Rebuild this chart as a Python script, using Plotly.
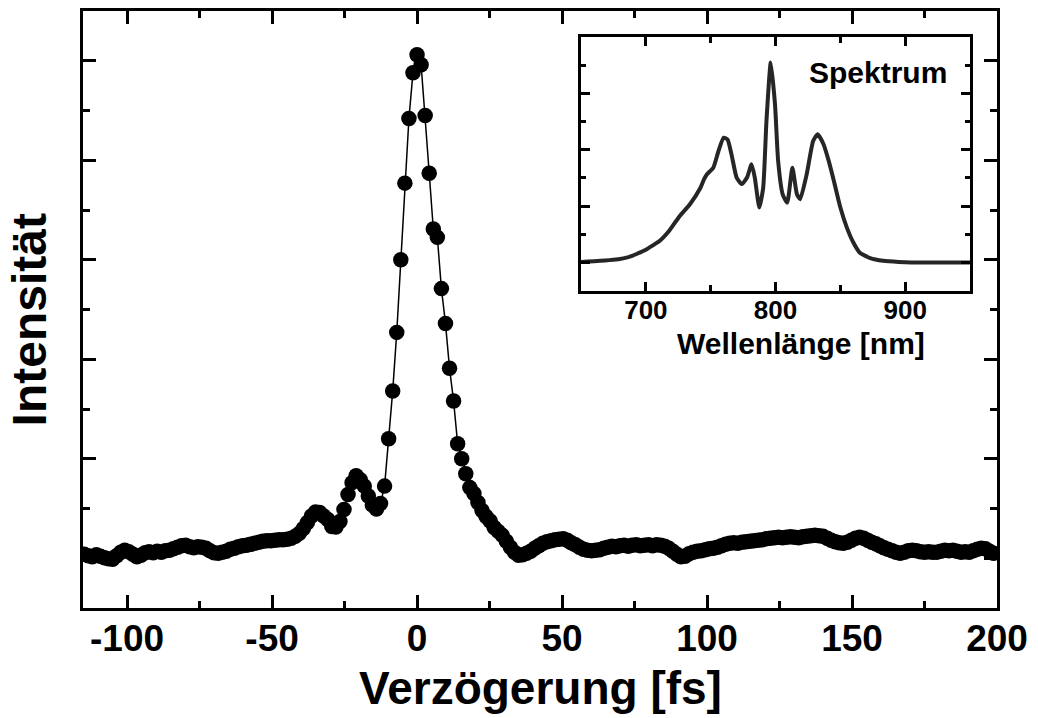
import plotly.graph_objects as go

# Autocorrelation trace: delay (fs) and normalised intensity
delay_fs = [
    -114.8, -113.4, -112.0, -110.6, -109.2, -107.8, -106.4, -105.0, -103.6, -102.2,
    -100.8, -99.4, -98.0, -96.6, -95.2, -93.8, -92.4, -91.0, -89.6, -88.2,
    -86.8, -85.4, -84.0, -82.6, -81.2, -79.8, -78.4, -77.0, -75.6, -74.2,
    -72.8, -71.4, -70.0, -68.6, -67.2, -65.8, -64.4, -63.0, -61.6, -60.2,
    -58.8, -57.4, -56.0, -54.6, -53.2, -51.8, -50.4, -49.0, -47.6, -46.2,
    -44.8, -43.4, -42.0, -40.6, -39.2, -37.8, -36.4, -35.0, -33.6, -32.2,
    -30.8, -29.4, -28.0, -26.6, -25.2, -23.8, -22.4, -21.0, -19.6, -18.2,
    -16.8, -15.4, -14.0, -12.6, -11.2, -9.8, -8.4, -7.0, -5.6, -4.2,
    -2.8, -1.4, 0.0, 1.4, 2.8, 4.2, 5.6, 7.0, 8.4, 9.8,
    11.2, 12.6, 14.0, 15.4, 16.8, 18.2, 19.6, 21.0, 22.4, 23.8,
    25.2, 26.6, 28.0, 29.4, 30.8, 32.2, 33.6, 35.0, 36.4, 37.8,
    39.2, 40.6, 42.0, 43.4, 44.8, 46.2, 47.6, 49.0, 50.4, 51.8,
    53.2, 54.6, 56.0, 57.4, 58.8, 60.2, 61.6, 63.0, 64.4, 65.8,
    67.2, 68.6, 70.0, 71.4, 72.8, 74.2, 75.6, 77.0, 78.4, 79.8,
    81.2, 82.6, 84.0, 85.4, 86.8, 88.2, 89.6, 91.0, 92.4, 93.8,
    95.2, 96.6, 98.0, 99.4, 100.8, 102.2, 103.6, 105.0, 106.4, 107.8,
    109.2, 110.6, 112.0, 113.4, 114.8, 116.2, 117.6, 119.0, 120.4, 121.8,
    123.2, 124.6, 126.0, 127.4, 128.8, 130.2, 131.6, 133.0, 134.4, 135.8,
    137.2, 138.6, 140.0, 141.4, 142.8, 144.2, 145.6, 147.0, 148.4, 149.8,
    151.2, 152.6, 154.0, 155.4, 156.8, 158.2, 159.6, 161.0, 162.4, 163.8,
    165.2, 166.6, 168.0, 169.4, 170.8, 172.2, 173.6, 175.0, 176.4, 177.8,
    179.2, 180.6, 182.0, 183.4, 184.8, 186.2, 187.6, 189.0, 190.4, 191.8,
    193.2, 194.6, 196.0, 197.4, 198.8,
]

intensity = [
    0.008, 0.005, 0.003, 0.007, 0.004, 0.001, -0.001, -0.002, 0.005, 0.012,
    0.016, 0.013, 0.008, 0.003, 0.006, 0.011, 0.013, 0.011, 0.014, 0.012,
    0.015, 0.016, 0.019, 0.022, 0.025, 0.026, 0.023, 0.021, 0.023, 0.022,
    0.020, 0.015, 0.011, 0.010, 0.012, 0.014, 0.018, 0.020, 0.023, 0.025,
    0.026, 0.028, 0.030, 0.032, 0.034, 0.035, 0.035, 0.036, 0.037, 0.037,
    0.038, 0.040, 0.044, 0.050, 0.060, 0.072, 0.085, 0.093, 0.092, 0.085,
    0.078, 0.064, 0.063, 0.074, 0.098, 0.128, 0.152, 0.166, 0.158, 0.145,
    0.125, 0.107, 0.099, 0.110, 0.145, 0.240, 0.336, 0.454, 0.600, 0.754,
    0.884, 0.976, 1.012, 0.992, 0.890, 0.774, 0.662, 0.645, 0.542, 0.472,
    0.382, 0.316, 0.230, 0.200, 0.170, 0.142, 0.130, 0.112, 0.096, 0.084,
    0.075, 0.062, 0.054, 0.046, 0.034, 0.022, 0.012, 0.006, 0.007, 0.010,
    0.014, 0.020, 0.025, 0.030, 0.033, 0.035, 0.037, 0.038, 0.039, 0.036,
    0.031, 0.027, 0.022, 0.018, 0.016, 0.015, 0.016, 0.017, 0.020, 0.022,
    0.024, 0.023, 0.025, 0.026, 0.024, 0.026, 0.027, 0.025, 0.026, 0.027,
    0.025, 0.027, 0.026, 0.024, 0.020, 0.014, 0.008, 0.003, 0.004, 0.009,
    0.012, 0.014, 0.015, 0.017, 0.019, 0.020, 0.022, 0.025, 0.028, 0.030,
    0.031, 0.030, 0.032, 0.033, 0.034, 0.035, 0.036, 0.037, 0.039, 0.040,
    0.041, 0.042, 0.041, 0.042, 0.043, 0.042, 0.041, 0.043, 0.044, 0.045,
    0.046, 0.045, 0.044, 0.040, 0.036, 0.033, 0.031, 0.030, 0.032, 0.036,
    0.040, 0.042, 0.040, 0.036, 0.032, 0.029, 0.025, 0.021, 0.018, 0.015,
    0.012, 0.010, 0.012, 0.015, 0.016, 0.015, 0.013, 0.012, 0.013, 0.012,
    0.012, 0.014, 0.016, 0.015, 0.016, 0.014, 0.012, 0.013, 0.012, 0.015,
    0.018, 0.020, 0.019, 0.014, 0.010,
]

# Laser spectrum shown in the inset
wavelength_nm = [
    650, 655, 665, 672, 680, 685, 690, 695, 700, 705,
    711, 718, 726, 734, 742, 745, 747, 752, 756, 760,
    763, 766, 770, 774, 778, 781.5, 784, 787.5, 790.5, 793,
    796.3, 799.6, 802, 805.5, 809, 813, 816.5, 819, 824, 829,
    832.5, 837, 841, 845, 850, 855, 860, 865, 873, 883,
    895, 905, 920, 935, 950,
]
spectrum = [
    0.002, 0.004, 0.007, 0.010, 0.015, 0.021, 0.030, 0.043, 0.056, 0.074,
    0.097, 0.140, 0.205, 0.258, 0.330, 0.370, 0.390, 0.420, 0.494, 0.553,
    0.545, 0.480, 0.376, 0.347, 0.376, 0.435, 0.376, 0.243, 0.332, 0.627,
    0.886, 0.700, 0.450, 0.302, 0.265, 0.420, 0.302, 0.280, 0.390, 0.538,
    0.568, 0.524, 0.450, 0.361, 0.243, 0.154, 0.088, 0.043, 0.019, 0.007,
    0.002, 0.000, 0.000, 0.000, 0.000,
]

# Axis ticks
delay_ticks = [-100, -50, 0, 50, 100, 150, 200]
delay_tick_text = ["-100", "-50", "0", "50", "100", "150", "200"]
delay_minor = [-75, -25, 25, 75, 125, 175]
int_ticks = [0, 0.2, 0.4, 0.6, 0.8, 1.0]
int_minor = [0.1, 0.3, 0.5, 0.7, 0.9]
wl_ticks = [700, 800, 900]
wl_tick_text = ["700", "800", "900"]
wl_minor = [750, 850]
spec_ticks = [0, 0.25, 0.5, 0.75]
spec_minor = [0.125, 0.375, 0.625, 0.875]

FONT = "Liberation Sans"

fig = go.Figure()
fig.add_trace(go.Scatter(
    x=delay_fs, y=intensity, mode="lines+markers",
    line=dict(color="black", width=1.5),
    marker=dict(color="black", size=15.5),
    xaxis="x", yaxis="y",
))
fig.add_trace(go.Scatter(
    x=wavelength_nm, y=spectrum, mode="lines",
    line=dict(color="#262626", width=4, shape="spline", smoothing=0.5),
    xaxis="x2", yaxis="y2",
))

main_axis = dict(
    showline=True, linewidth=3, linecolor="black", mirror="allticks",
    ticks="inside", ticklen=13, tickwidth=3, tickcolor="black",
    showgrid=False, zeroline=False,
)
inset_axis = dict(
    showline=True, linewidth=2.5, linecolor="black", mirror="allticks",
    ticks="inside", ticklen=9, tickwidth=2.5, tickcolor="black",
    showgrid=False, zeroline=False,
)

fig.update_layout(
    width=1038, height=718,
    margin=dict(l=83, r=41, t=8, b=110),
    plot_bgcolor="white", paper_bgcolor="white",
    showlegend=False,
    xaxis=dict(
        **main_axis, range=[-115.2, 200],
        tickvals=delay_ticks, ticktext=delay_tick_text,
        tickfont=dict(family=FONT, size=37, color="black", weight="bold"),
        ticklabelstandoff=-4,
        minor=dict(tickvals=delay_minor, ticks="inside", ticklen=7,
                   tickwidth=3, tickcolor="black"),
    ),
    yaxis=dict(
        **main_axis, range=[-0.1, 1.1],
        tickvals=int_ticks, showticklabels=False,
        minor=dict(tickvals=int_minor, ticks="inside", ticklen=7,
                   tickwidth=3, tickcolor="black"),
    ),
    xaxis2=dict(
        **inset_axis, domain=[0.5449, 0.9705], anchor="y2", range=[650, 950],
        tickvals=wl_ticks, ticktext=wl_tick_text,
        tickfont=dict(family=FONT, size=26, color="black", weight="bold"),
        ticklabelstandoff=-6,
        minor=dict(tickvals=wl_minor, ticks="inside", ticklen=6,
                   tickwidth=2.5, tickcolor="black"),
    ),
    yaxis2=dict(
        **inset_axis, domain=[0.5317, 0.9567], anchor="x2", range=[-0.125, 1.0],
        tickvals=spec_ticks, showticklabels=False,
        minor=dict(tickvals=spec_minor, ticks="inside", ticklen=5,
                   tickwidth=2.5, tickcolor="black"),
    ),
    annotations=[
        dict(text="Verzögerung [fs]", xref="paper", yref="paper",
             x=0.5, y=-0.1333, xanchor="center", yanchor="middle", showarrow=False,
             font=dict(family=FONT, size=46, color="black", weight="bold")),
        dict(text="Intensität", xref="paper", yref="paper", textangle=-90,
             x=-0.0591, y=0.4833, xanchor="center", yanchor="middle", showarrow=False,
             font=dict(family=FONT, size=48, color="black", weight="bold")),
        dict(text="Wellenlänge [nm]", xref="paper", yref="paper",
             x=0.7856, y=0.443, xanchor="center", yanchor="middle", showarrow=False,
             font=dict(family=FONT, size=30, color="black", weight="bold")),
        dict(text="Spektrum", xref="paper", yref="paper",
             x=0.8698, y=0.8967, xanchor="center", yanchor="middle", showarrow=False,
             font=dict(family=FONT, size=30, color="black", weight="bold")),
    ],
)

fig.write_html("out.html")
